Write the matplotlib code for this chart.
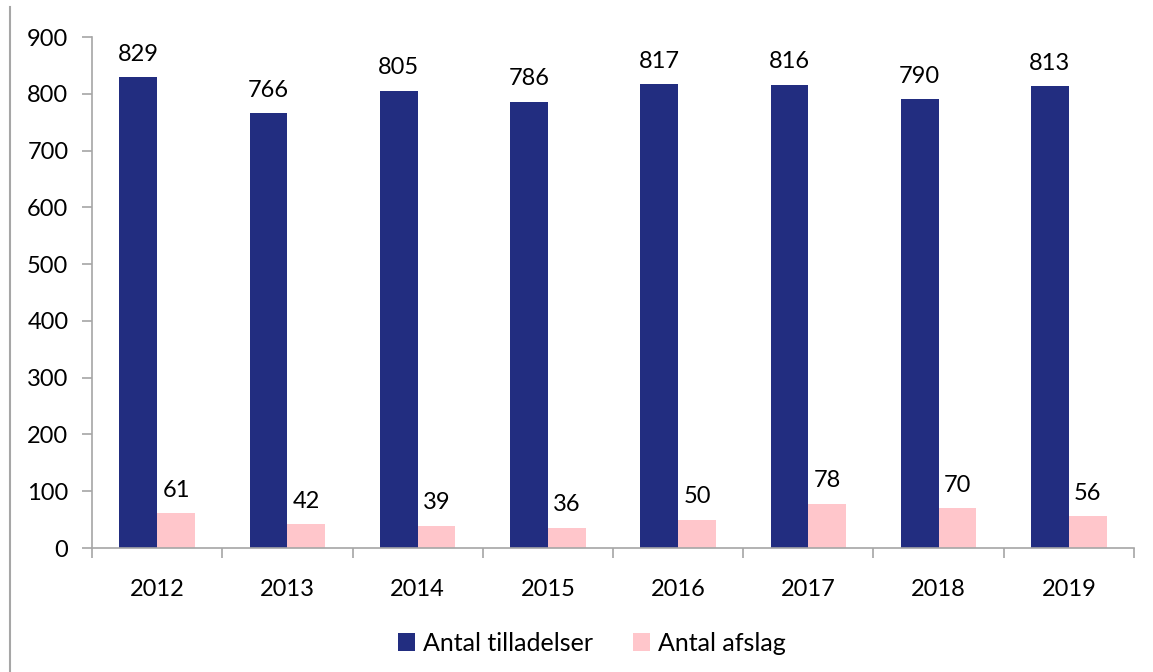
import numpy as np
import matplotlib.pyplot as plt
from matplotlib.lines import Line2D

years = ["2012", "2013", "2014", "2015", "2016", "2017", "2018", "2019"]
tilladelser = [829, 766, 805, 786, 817, 816, 790, 813]
afslag = [61, 42, 39, 36, 50, 78, 70, 56]

plt.rcParams['font.family'] = ['Lato', 'DejaVu Sans']
blue = "#222d80"
pink = "#ffc6cb"
grey = "#a6a6a6"
fs = 17

fig = plt.figure(figsize=(11.53, 6.72), dpi=100)
ax = fig.add_axes([0.0798, 0.1845, 0.9037, 0.7604])

x = np.arange(len(years))
w = 0.29
b1 = ax.bar(x - w/2, tilladelser, w, color=blue, label="Antal tilladelser")
b2 = ax.bar(x + w/2, afslag, w, color=pink, label="Antal afslag")
for rect, v in zip(b1, tilladelser):
    ax.text(rect.get_x() + rect.get_width()/2, v + 22, str(v), ha="center", va="bottom", fontsize=fs)
for rect, v in zip(b2, afslag):
    ax.text(rect.get_x() + rect.get_width()/2, v + 22, str(v), ha="center", va="bottom", fontsize=fs)

ax.set_xlim(-0.5, len(years) - 0.5)
ax.set_ylim(0, 900)
ax.set_yticks(range(0, 901, 100))
ax.set_xticks(x)
ax.set_xticklabels(years, fontsize=fs)
ax.set_xticks(np.arange(-0.5, len(years), 1), minor=True)
ax.tick_params(axis="x", which="major", length=0, pad=22)
ax.tick_params(axis="x", which="minor", length=7, color=grey, width=1.2)
ax.tick_params(axis="y", length=7, color=grey, width=1.2, labelsize=fs, pad=10)
for s in ["top", "right"]:
    ax.spines[s].set_visible(False)
for s in ["left", "bottom"]:
    ax.spines[s].set_color(grey)
    ax.spines[s].set_linewidth(1.2)

fig.legend(handles=[b1, b2], loc="center", bbox_to_anchor=(0.513, 0.043), ncol=2,
           frameon=False, fontsize=18, handlelength=0.7, handleheight=0.7,
           handletextpad=0.3, columnspacing=1.6)

fig.add_artist(Line2D([10/1153, 10/1153], [0, 1 - 7/672], color=grey, lw=1.5))

fig.savefig("out.png", dpi=100)
